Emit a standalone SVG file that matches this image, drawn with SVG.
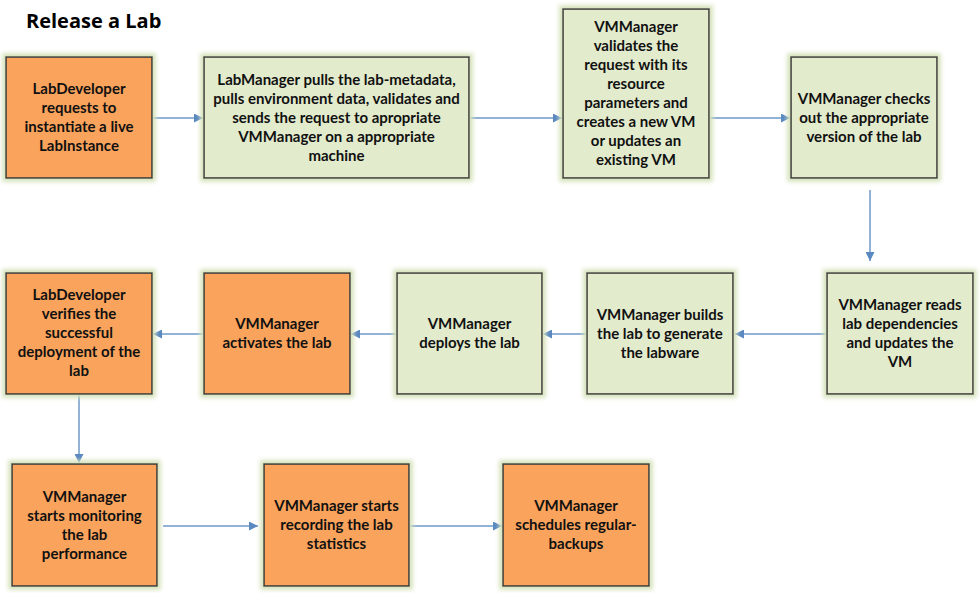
<svg xmlns="http://www.w3.org/2000/svg" width="980" height="593" viewBox="0 0 980 593">
<defs>
<style>
.box{stroke:#3c3c3c;stroke-width:1.6;filter:url(#glow)}
.o{fill:#FAA35B}
.g{fill:#E3EBCD}
.t{font-family:Lato,"Open Sans","Liberation Sans",sans-serif;font-weight:bold;font-size:15px;fill:#111;text-anchor:middle}
.title{font-family:"Open Sans","Liberation Sans",sans-serif;font-weight:bold;font-size:20px;fill:#000}
.c{stroke:#6E98C8;stroke-width:1.5;fill:none;marker-end:url(#ah)}
</style>
<filter id="glow" x="-10%" y="-10%" width="120%" height="120%">
<feMorphology in="SourceAlpha" operator="dilate" radius="3" result="d"/>
<feGaussianBlur in="d" stdDeviation="2" result="b"/>
<feFlood flood-color="#D5E2BA"/>
<feComposite in2="b" operator="in" result="gl"/>
<feMerge><feMergeNode in="gl"/><feMergeNode in="SourceGraphic"/></feMerge>
</filter>
<marker id="ah" viewBox="0 0 10 10" refX="10" refY="5" markerWidth="6" markerHeight="6" markerUnits="strokeWidth" orient="auto">
<path d="M0,0 L10,5 L0,10 z" fill="#5A88C0"/>
</marker>
</defs>
<rect width="980" height="593" fill="#fff"/>
<text class="title" x="26" y="28">Release a Lab</text>

<g id="connectors">
<line class="c" x1="153" y1="118" x2="203" y2="118"/>
<line class="c" x1="470" y1="118" x2="562" y2="118"/>
<line class="c" x1="710" y1="118" x2="790" y2="118"/>
<line class="c" x1="870" y1="190" x2="870" y2="261"/>
<line class="c" x1="826" y1="334" x2="735" y2="334"/>
<line class="c" x1="586" y1="334" x2="543" y2="334"/>
<line class="c" x1="396" y1="334" x2="351" y2="334"/>
<line class="c" x1="203" y1="334" x2="153" y2="334"/>
<line class="c" x1="79" y1="395" x2="79" y2="463"/>
<line class="c" x1="163" y1="526" x2="258" y2="526"/>
<line class="c" x1="410" y1="526" x2="502" y2="526"/>
</g>

<g id="n1">
<rect class="box o" x="6" y="57" width="146" height="121"/>
<text class="t"><tspan x="79" y="94">LabDeveloper</tspan><tspan x="79" y="113">requests to</tspan><tspan x="79" y="132">instantiate a live</tspan><tspan x="79" y="151">LabInstance</tspan></text>
</g>
<g id="n2">
<rect class="box g" x="204" y="57" width="265" height="121"/>
<text class="t"><tspan x="336.5" y="85">LabManager pulls the lab-metadata,</tspan><tspan x="336.5" y="104">pulls environment data, validates and</tspan><tspan x="336.5" y="123">sends the request to apropriate</tspan><tspan x="336.5" y="142">VMManager on a appropriate</tspan><tspan x="336.5" y="161">machine</tspan></text>
</g>
<g id="n3">
<rect class="box g" x="563" y="9" width="146" height="169"/>
<text class="t"><tspan x="636" y="32">VMManager</tspan><tspan x="636" y="51">validates the</tspan><tspan x="636" y="70">request with its</tspan><tspan x="636" y="89">resource</tspan><tspan x="636" y="108">parameters and</tspan><tspan x="636" y="127">creates a new VM</tspan><tspan x="636" y="146">or updates an</tspan><tspan x="636" y="165">existing VM</tspan></text>
</g>
<g id="n4">
<rect class="box g" x="791" y="57" width="146" height="121"/>
<text class="t"><tspan x="864" y="104">VMManager checks</tspan><tspan x="864" y="123">out the appropriate</tspan><tspan x="864" y="142">version of the lab</tspan></text>
</g>
<g id="n5">
<rect class="box g" x="827" y="273" width="146" height="121"/>
<text class="t"><tspan x="900" y="310">VMManager reads</tspan><tspan x="900" y="329">lab dependencies</tspan><tspan x="900" y="348">and updates the</tspan><tspan x="900" y="367">VM</tspan></text>
</g>
<g id="n6">
<rect class="box g" x="587" y="273" width="146" height="121"/>
<text class="t"><tspan x="660" y="320">VMManager builds</tspan><tspan x="660" y="339">the lab to generate</tspan><tspan x="660" y="358">the labware</tspan></text>
</g>
<g id="n7">
<rect class="box g" x="397" y="273" width="145" height="121"/>
<text class="t"><tspan x="469.5" y="329">VMManager</tspan><tspan x="469.5" y="348">deploys the lab</tspan></text>
</g>
<g id="n8">
<rect class="box o" x="204" y="273" width="146" height="121"/>
<text class="t"><tspan x="277" y="329">VMManager</tspan><tspan x="277" y="348">activates the lab</tspan></text>
</g>
<g id="n9">
<rect class="box o" x="6" y="273" width="146" height="121"/>
<text class="t"><tspan x="79" y="300">LabDeveloper</tspan><tspan x="79" y="319">verifies the</tspan><tspan x="79" y="338">successful</tspan><tspan x="79" y="357">deployment of the</tspan><tspan x="79" y="376">lab</tspan></text>
</g>
<g id="n10">
<rect class="box o" x="12" y="464" width="145" height="122"/>
<text class="t"><tspan x="84.5" y="502">VMManager</tspan><tspan x="84.5" y="521">starts monitoring</tspan><tspan x="84.5" y="540">the lab</tspan><tspan x="84.5" y="559">performance</tspan></text>
</g>
<g id="n11">
<rect class="box o" x="264" y="464" width="145" height="122"/>
<text class="t"><tspan x="336.5" y="511">VMManager starts</tspan><tspan x="336.5" y="530">recording the lab</tspan><tspan x="336.5" y="549">statistics</tspan></text>
</g>
<g id="n12">
<rect class="box o" x="503" y="464" width="146" height="122"/>
<text class="t"><tspan x="576" y="511">VMManager</tspan><tspan x="576" y="530">schedules regular-</tspan><tspan x="576" y="549">backups</tspan></text>
</g>
</svg>
